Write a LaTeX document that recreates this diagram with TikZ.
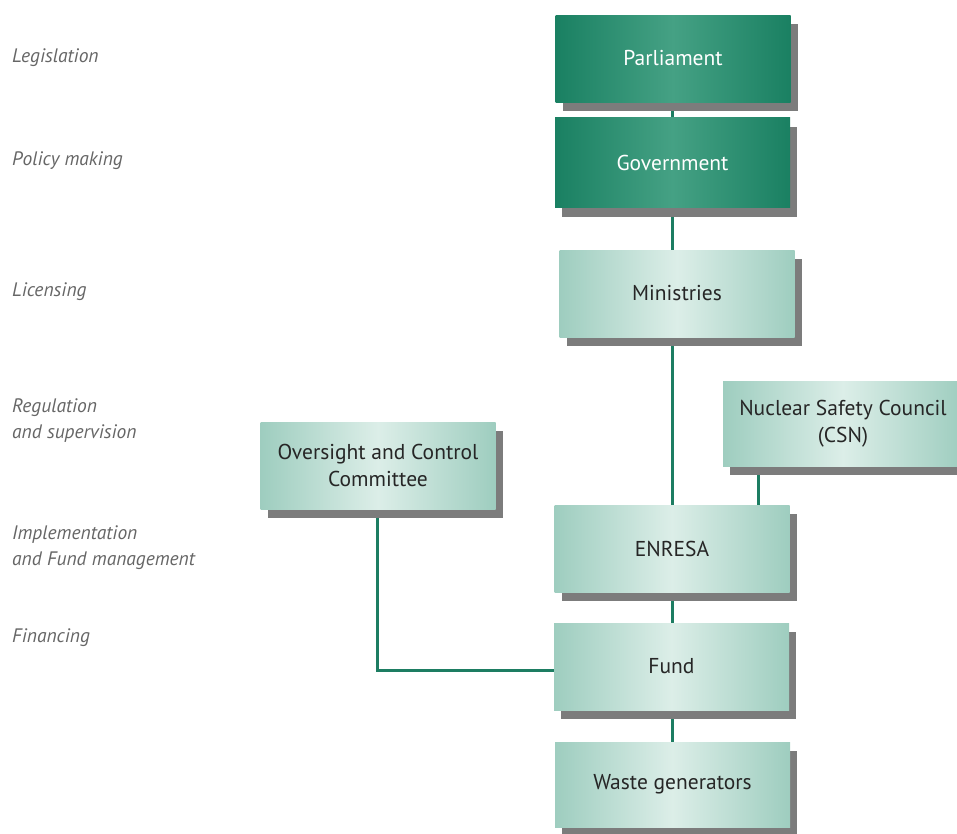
\documentclass[tikz,border=0pt]{standalone}
\usepackage{fontspec}
\setmainfont{PT Sans}
\usetikzlibrary{shadows,backgrounds}
\definecolor{darkA}{HTML}{1A8062}
\definecolor{darkB}{HTML}{45A184}
\definecolor{lightA}{HTML}{9ECDBF}
\definecolor{lightB}{HTML}{DCEEE8}
\definecolor{shadowgray}{HTML}{7C7C7C}
\definecolor{linecol}{HTML}{1D7D62}
\definecolor{labelgray}{HTML}{666666}
\tikzset{
  boxbase/.style={rectangle, inner sep=0pt, minimum width=235pt, minimum height=87pt,
    align=center, font=\fontsize{21.5}{27}\selectfont,
    general shadow={fill=shadowgray, shadow xshift=7pt, shadow yshift=-9pt}},
  darkbox/.style={boxbase, left color=darkA, right color=darkA, middle color=darkB, text=white},
  lightbox/.style={boxbase, left color=lightA, right color=lightA, middle color=lightB, text=black!85},
  conn/.style={draw=linecol, line width=3pt},
  levellabel/.style={anchor=west, align=left, text=labelgray, inner sep=0pt,
    font=\fontsize{19.5}{26}\selectfont\itshape}
}
\begin{document}
\begin{tikzpicture}[x=1pt,y=-1pt]
\useasboundingbox (0,0) rectangle (957,833);
% level labels
\node[levellabel] (l1) at (12,58) {Legislation};
\node[levellabel] (l2) at (12,161) {Policy making};
\node[levellabel] (l3) at (12,292) {Licensing};
\node[levellabel] (l4) at (12,421) {Regulation\\and supervision};
\node[levellabel] (l5) at (12,548) {Implementation\\and Fund management};
\node[levellabel] (l6) at (12,638) {Financing};
% boxes
\node[darkbox] (parl) at (673,58.5) {Parliament};
\node[darkbox, minimum height=90pt] (gov) at (672.5,162.5) {Government};
\node[lightbox] (min) at (677,293.5) {Ministries};
\node[lightbox, minimum width=240pt, minimum height=85pt] (csn) at (843,423.5) {Nuclear Safety Council\\(CSN)};
\node[lightbox] (ovs) at (378,465.5) {Oversight and Control\\Committee};
\node[lightbox] (enr) at (672,548.5) {ENRESA};
\node[lightbox] (fund) at (671.5,666.5) {Fund};
\node[lightbox, minimum height=85pt] (waste) at (672.5,784.5) {Waste generators};
% connector positions
\coordinate (spine) at (672,0);
\coordinate (csnx) at (758,0);
\coordinate (ovsx) at (377,0);
\begin{scope}[on background layer]
\draw[conn] (parl.south -| spine) -- (gov.north -| spine);
\draw[conn] (gov.south -| spine) -- (min.north -| spine);
\draw[conn] (min.south -| spine) -- (enr.north -| spine);
\draw[conn] (csn.south -| csnx) -- (enr.north -| csnx);
\draw[conn] (enr.south -| spine) -- (fund.north -| spine);
\draw[conn] (fund.south -| spine) -- (waste.north -| spine);
\draw[conn] (ovs.south -| ovsx) |- ([yshift=-3.5pt]fund.west);
\end{scope}
\end{tikzpicture}
\end{document}
